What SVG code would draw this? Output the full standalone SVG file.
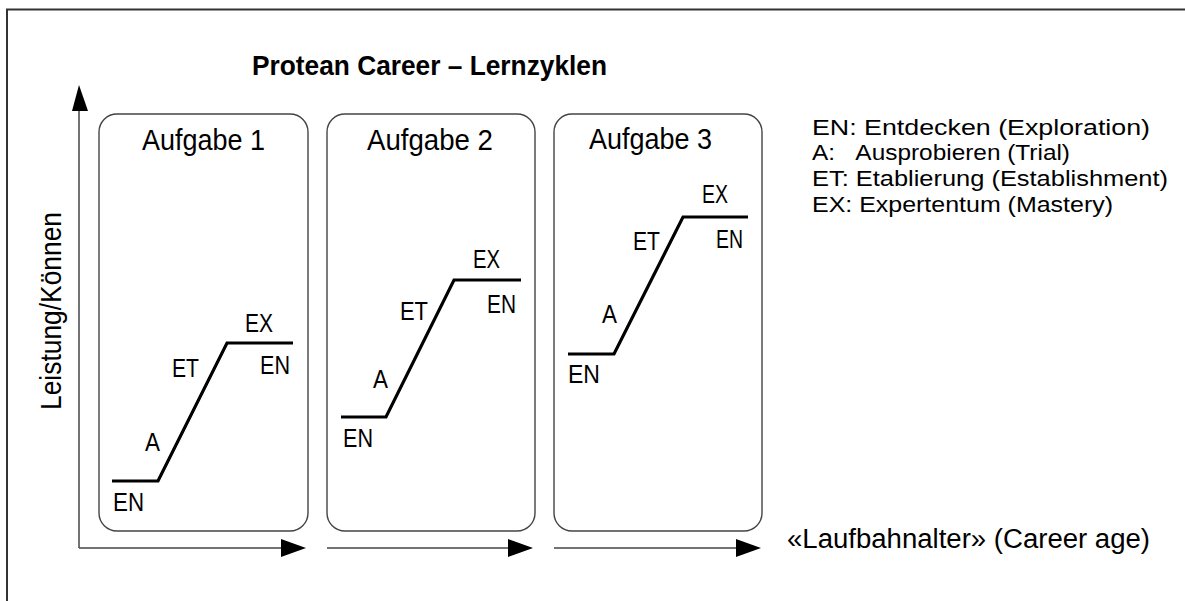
<svg xmlns="http://www.w3.org/2000/svg" width="1185" height="601" viewBox="0 0 1185 601">
<style>
  text { font-family: "Liberation Sans Narrow", "Liberation Sans", Arial, sans-serif; fill: #000; }
  .title { font-size: 28px; font-weight: bold; }
  .box { fill: none; stroke: #444; stroke-width: 1.4; }
  .axis { fill: none; stroke: #444; stroke-width: 1.5; }
  .curve { fill: none; stroke: #000; stroke-width: 3.2; stroke-linejoin: miter; }
  .head { fill: #000; }
  .btitle { font-size: 30px; }
  .lbl { font-size: 25px; }
  .leg { font-size: 22px; }
  .xl { font-size: 27px; }
</style>
<rect width="1185" height="601" fill="#fff"/>
<g id="frame">
  <path d="M7 601 V9.5 H1185" fill="none" stroke="#333" stroke-width="2"/>
</g>
<g id="title">
  <text class="title" x="252" y="75" textLength="355" lengthAdjust="spacingAndGlyphs">Protean Career – Lernzyklen</text>
</g>
<g id="connectors">
  <line class="axis" x1="79" y1="548" x2="79" y2="108"/>
  <polygon class="head" points="79,85 72,111 88,111"/>
  <line class="axis" x1="79" y1="548" x2="284" y2="548"/>
  <polygon class="head" points="306,548 281,539 281,557"/>
  <line class="axis" x1="327" y1="548" x2="511" y2="548"/>
  <polygon class="head" points="533,548 508,539 508,557"/>
  <line class="axis" x1="554" y1="548" x2="739" y2="548"/>
  <polygon class="head" points="761,548 736,539 736,557"/>
</g>
<g id="y-label">
  <text x="0" y="0" font-size="30" transform="translate(61,410) rotate(-90)" textLength="198" lengthAdjust="spacingAndGlyphs">Leistung/Können</text>
</g>
<g id="x-label">
  <text class="xl" x="787" y="548" textLength="363" lengthAdjust="spacingAndGlyphs">«Laufbahnalter» (Career age)</text>
</g>
<g id="aufgabe1">
  <rect class="box" x="99" y="114" width="209" height="417" rx="18" ry="18"/>
  <text class="btitle" x="142" y="150" textLength="123" lengthAdjust="spacingAndGlyphs">Aufgabe 1</text>
  <polyline class="curve" points="112,481 158,481 227,343 293,343"/>
  <text class="lbl" x="113" y="511" textLength="31" lengthAdjust="spacingAndGlyphs">EN</text>
  <text class="lbl" x="145" y="451" textLength="15" lengthAdjust="spacingAndGlyphs">A</text>
  <text class="lbl" x="172" y="377" textLength="27" lengthAdjust="spacingAndGlyphs">ET</text>
  <text class="lbl" x="245" y="332" textLength="28" lengthAdjust="spacingAndGlyphs">EX</text>
  <text class="lbl" x="260" y="374" textLength="30" lengthAdjust="spacingAndGlyphs">EN</text>
</g>
<g id="aufgabe2">
  <rect class="box" x="327" y="114" width="208" height="417" rx="18" ry="18"/>
  <text class="btitle" x="367" y="150" textLength="126" lengthAdjust="spacingAndGlyphs">Aufgabe 2</text>
  <polyline class="curve" points="341,417 386,417 454,280 521,280"/>
  <text class="lbl" x="343" y="447" textLength="30" lengthAdjust="spacingAndGlyphs">EN</text>
  <text class="lbl" x="373" y="388" textLength="15" lengthAdjust="spacingAndGlyphs">A</text>
  <text class="lbl" x="400" y="320" textLength="28" lengthAdjust="spacingAndGlyphs">ET</text>
  <text class="lbl" x="473" y="268" textLength="27" lengthAdjust="spacingAndGlyphs">EX</text>
  <text class="lbl" x="487" y="313" textLength="29" lengthAdjust="spacingAndGlyphs">EN</text>
</g>
<g id="aufgabe3">
  <rect class="box" x="554" y="114" width="208" height="417" rx="18" ry="18"/>
  <text class="btitle" x="589" y="149" textLength="123" lengthAdjust="spacingAndGlyphs">Aufgabe 3</text>
  <polyline class="curve" points="568,354 614,354 683,217 748,217"/>
  <text class="lbl" x="568" y="383" textLength="32" lengthAdjust="spacingAndGlyphs">EN</text>
  <text class="lbl" x="602" y="323" textLength="15" lengthAdjust="spacingAndGlyphs">A</text>
  <text class="lbl" x="633" y="250" textLength="27" lengthAdjust="spacingAndGlyphs">ET</text>
  <text class="lbl" x="702" y="203" textLength="26" lengthAdjust="spacingAndGlyphs">EX</text>
  <text class="lbl" x="716" y="248" textLength="27" lengthAdjust="spacingAndGlyphs">EN</text>
</g>
<g id="legend">
  <text class="leg" x="812" y="135" textLength="338" lengthAdjust="spacingAndGlyphs">EN: Entdecken (Exploration)</text>
  <text class="leg" x="812" y="160" textLength="258" lengthAdjust="spacingAndGlyphs">A:&#160;&#160;&#160;Ausprobieren (Trial)</text>
  <text class="leg" x="812" y="186" textLength="356" lengthAdjust="spacingAndGlyphs">ET: Etablierung (Establishment)</text>
  <text class="leg" x="812" y="212" textLength="301" lengthAdjust="spacingAndGlyphs">EX: Expertentum (Mastery)</text>
</g>
</svg>
